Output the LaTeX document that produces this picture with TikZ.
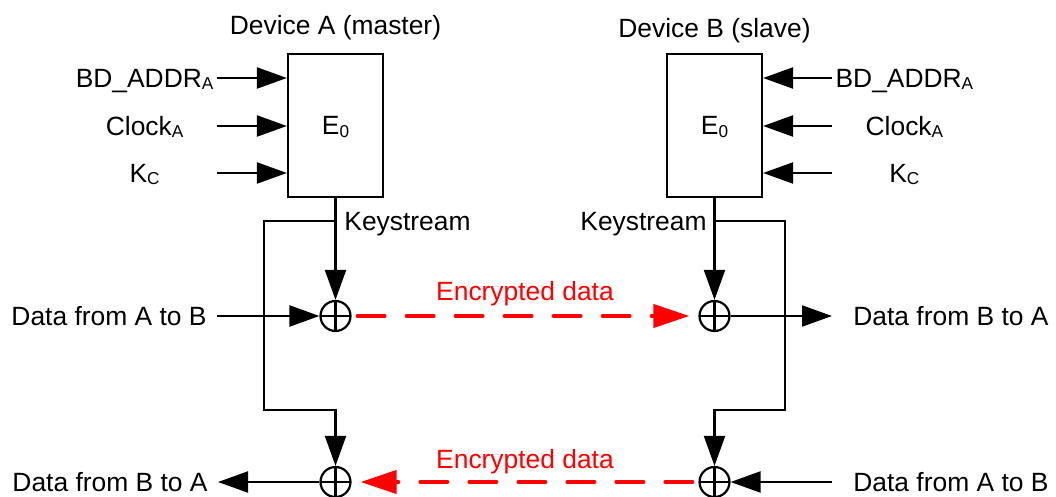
\documentclass[tikz,border=0pt]{standalone}
\usepackage{fontspec}
\setmainfont{Liberation Sans}
\usetikzlibrary{arrows.meta,positioning}
\newcommand{\lowtxt}[1]{\raisebox{-1.2pt}{\fontsize{8.6}{9}\selectfont #1}}
\tikzset{
  encbox/.style={draw, line width=1.1pt, minimum width=47.5pt, minimum height=71.5pt, inner sep=0pt},
  xorop/.style={draw, circle, line width=1.1pt, minimum size=15pt, inner sep=0pt,
    path picture={\draw[line width=1.1pt] (path picture bounding box.north) -- (path picture bounding box.south)
      (path picture bounding box.west) -- (path picture bounding box.east);}},
  inlbl/.style={text width=72pt, align=center, inner sep=0pt},
  txt/.style={inner sep=0pt},
  datal/.style={inner ysep=0pt, inner xsep=5pt},
  datar/.style={inner ysep=0pt, inner xsep=10.5pt},
  line/.style={-{Triangle[length=15pt,width=10.5pt]}, line width=1.1pt},
  encline/.style={-{Triangle[length=18pt,width=11.5pt]}, line width=2pt, red,
    dash pattern=on 13.5pt off 11pt, line cap=round, shorten <=3pt, shorten >=4.5pt}
}
\begin{document}
\begin{tikzpicture}[x=0.5pt, y=-0.5pt, font=\fontsize{13.2}{16}\selectfont,
  every node/.append style={text height=9.5pt, text depth=0pt}]
  \useasboundingbox (0,0) rectangle (1056,497);

  % the two E0 blocks
  \node[encbox] (e0a) at (335.5,125.5) {E\lowtxt{0}};
  \node[encbox] (e0b) at (714.5,125.5) {E\lowtxt{0}};
  \node[txt, above=9pt of e0a] (deva) {Device A (master)};
  \node[txt, above=7.3pt of e0b] (devb) {Device B (slave)};

  % inputs
  \node[inlbl, anchor=east] (adra) at (217,78) {BD\_ADDR\lowtxt{A}};
  \node[inlbl, anchor=east] (clka) at (217,126) {Clock\lowtxt{A}};
  \node[inlbl, anchor=east] (kca) at (217,173) {K\lowtxt{C}};
  \node[inlbl, anchor=west] (adrb) at (832,78) {BD\_ADDR\lowtxt{A}};
  \node[inlbl, anchor=west] (clkb) at (832,126) {Clock\lowtxt{A}};
  \node[inlbl, anchor=west] (kcb) at (832,173) {K\lowtxt{C}};
  \foreach \n in {adra,clka,kca} \draw[line] (\n) -- (\n -| e0a.west);
  \foreach \n in {adrb,clkb,kcb} \draw[line] (\n) -- (\n -| e0b.east);

  % xor gates
  \node[xorop] (xa1) at (335.5,316) {};
  \node[xorop] (xb1) at (714.5,316) {};
  \node[xorop] (xa2) at (335.5,482) {};
  \node[xorop] (xb2) at (714.5,482) {};

  % keystream
  \coordinate (ksa) at (335.5,221);
  \coordinate (ksb) at (714.5,221);
  \coordinate (cora) at (264,410);
  \coordinate (corb) at (785,410);
  \node[txt, anchor=west] (kla) at (344,221) {Keystream};
  \node[txt, anchor=east] (klb) at (707,221) {Keystream};
  \draw[line] (e0a) -- (xa1);
  \draw[line] (e0b) -- (xb1);
  \draw[line] (ksa) -| (cora) -| (xa2);
  \draw[line] (ksb) -| (corb) -| (xb2);

  % plain data
  \node[datal, anchor=east] (dab1) at (217,316) {Data from A to B};
  \node[datar, anchor=west] (dba1) at (832,316) {Data from B to A};
  \node[datal, anchor=east] (dba2) at (218,482) {Data from B to A};
  \node[datar, anchor=west] (dab2) at (832,482) {Data from A to B};
  \draw[line] (dab1) -- (xa1);
  \draw[line] (xb1) -- (dba1);
  \draw[line] (xa2) -- (dba2);
  \draw[line] (dab2) -- (xb2);

  % encrypted link
  \draw[encline] (xa1) -- node[txt, above=6.75pt] (enc1) {Encrypted data} (xb1);
  \draw[encline] (xb2) -- node[txt, above=5.75pt] (enc2) {Encrypted data} (xa2);
\end{tikzpicture}
\end{document}
